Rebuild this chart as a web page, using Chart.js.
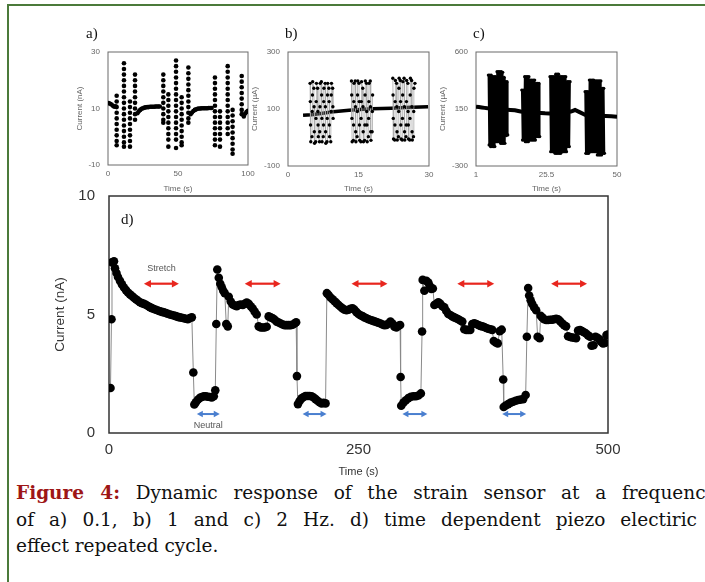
<!DOCTYPE html>
<html>
<head>
<meta charset="utf-8">
<script src="https://cdn.jsdelivr.net/npm/chart.js@4.4.0/dist/chart.umd.min.js"></script>
<style>
  html, body { margin: 0; padding: 0; background: #fff; width: 705px; height: 582px; overflow: hidden; }
  body { position: relative; }
  .frame { position: absolute; left: 7px; top: 4px; width: 740px; height: 620px; border-left: 2px solid #4b7a3a; border-top: 2px solid #4b7a3a; }
  canvas { position: absolute; }
  .lbl { position: absolute; font-family: "Liberation Serif", serif; font-size: 15px; line-height: 15px; color: #111; }
  .cap { position: absolute; left: 16px; font-family: "DejaVu Serif", serif; font-size: 18.5px; line-height: 27px; color: #111; white-space: nowrap; }
  .just { white-space: normal; text-align: justify; text-align-last: justify; }
  .fig { color: #9e1616; font-weight: bold; }
</style>
</head>
<body>
<div class="frame"></div>

<canvas id="chartA" width="187" height="154" style="left:75px;top:40px"></canvas>
<canvas id="chartB" width="193" height="154" style="left:250px;top:40px"></canvas>
<canvas id="chartC" width="193" height="154" style="left:438px;top:40px"></canvas>
<canvas id="chartD" width="581" height="306" style="left:52px;top:173px"></canvas>

<div class="lbl" style="left:86px;top:26px">a)</div>
<div class="lbl" style="left:285px;top:26px">b)</div>
<div class="lbl" style="left:473px;top:26px">c)</div>
<div class="lbl" style="left:121px;top:212px">d)</div>

<div class="cap just" style="top:479px;width:700px"><span class="fig">Figure 4:</span> Dynamic response of the strain sensor at a frequency</div>
<div class="cap just" style="top:506px;width:681px">of a) 0.1, b) 1 and c) 2 Hz. d) time dependent piezo electiric</div>
<div class="cap" style="top:532px">effect repeated cycle.</div>

<script>
// ---- a) 0.1 Hz ----
const aTicksX = [0, 50, 100]
const aTicksY = [-10, 10, 30]
const aBaseTime = [0.5, 1.5, 2.5, 3.5, 4.5, 5.5,
  21, 22, 23, 24, 25, 26, 27, 28, 29, 30, 31, 32, 33, 34, 35, 36, 37,
  59, 60, 61, 62, 63, 64, 65, 66, 67, 68, 69, 70, 71, 72, 73, 74,
  97, 98, 99, 100]
const aBaseCurrent = [11.9, 11.7, 11.4, 11, 10.6, 10.8,
  8.3, 9, 9.5, 9.9, 10.1, 10.3, 10.4, 10.5, 10.5, 10.6, 10.6, 10.6, 10.6, 10.7, 10.7, 10.7, 10.7,
  8, 8.6, 9.1, 9.5, 9.7, 9.9, 10, 10, 10.1, 10.1, 10.1, 10.1, 10.1, 10.2, 10.2, 10.2,
  7.2, 8.2, 8.8, 9.2]
const aColTime = [6.2, 11.4, 15.7, 19.3, 39.5, 43.1, 48.6, 52.6, 57.4, 76.4, 80, 85.5, 89, 95.5]
const aColCurrent = [
  [14.5, 12.5, 10.5, 8.5, 6.5, 4.5, 2.5, 0.5, -1.5, -3],
  [26, 24, 22, 20, 18, 16, 14, 12, 10, 8, 6, 4, 2, 0, -2, -3.5],
  [12.5, 10.5, 8.5, 6.5, 4.5, 2.5, 0.5, -1.5, -3.5],
  [22, 20, 18, 16, 14, 12, 10, 8, 6],
  [22, 20, 18, 16, 14, 12, 10, 8, 6, 5],
  [15, 13, 11, 9, 7, 5, 3, 1, -1, -3.5],
  [27, 25, 23, 21, 19, 17, 15, 13, 11, 9, 7, 5, 3, 1, -1, -4],
  [14, 12, 10, 8, 6, 4, 2, 0, -2, -3],
  [24.5, 22.5, 20.5, 18.5, 16.5, 14.5, 12.5, 10.5, 8.5, 6.5, 5],
  [21, 19, 17, 15, 13, 11, 9, 7, 5, 3, 1, -1, -3],
  [9, 7, 5, 3, 1, -1, -3.5],
  [25, 23, 21, 19, 17, 15, 13, 11, 9, 7, 5, 3, 1],
  [9.5, 7.5, 5.5, 3.5, 1.5, -0.5, -2.5, -4.5, -6],
  [21.5, 19.5, 17.5, 15.5, 13.5, 11.5, 9.5, 8]
]

// ---- b) 1 Hz ----
const bTicksX = [0, 15, 30]
const bTicksY = [-100, 100, 300]
const bBaseTime = [3.2, 5, 7, 9.6, 13, 16, 18, 22, 25, 29.8]
const bBaseCurrent = [78, 80, 84, 90, 96, 99, 101, 103, 105, 108]
const bBurstTime = [
  4.7, 4.75, 4.8, 4.85, 5.1, 5.15, 5.2, 5.25, 5.5, 5.55, 5.6, 5.65, 5.9, 5.95, 6.0, 6.05,
  6.3, 6.35, 6.4, 6.45, 6.7, 6.75, 6.8, 6.85, 7.1, 7.15, 7.2, 7.25, 7.5, 7.55, 7.6, 7.65,
  7.9, 7.95, 8.0, 8.05, 8.3, 8.35, 8.4, 8.45, 8.7, 8.75, 8.8, 8.85, 9.1, 9.15, 9.2, 9.25, 9.5, 9.55, 9.6,
  11,
  13.5, 13.55, 13.6, 13.65, 13.9, 13.95, 14.0, 14.05, 14.3, 14.35, 14.4, 14.45, 14.7, 14.75, 14.8, 14.85,
  15.1, 15.15, 15.2, 15.25, 15.5, 15.55, 15.6, 15.65, 15.9, 15.95, 16.0, 16.05, 16.3, 16.35, 16.4, 16.45,
  16.7, 16.75, 16.8, 16.85, 17.1, 17.15, 17.2, 17.25, 17.5, 17.55, 17.6, 17.65, 17.9, 17.95, 18.0,
  20,
  22.3, 22.35, 22.4, 22.45, 22.7, 22.75, 22.8, 22.85, 23.1, 23.15, 23.2, 23.25, 23.5, 23.55, 23.6, 23.65,
  23.9, 23.95, 24.0, 24.05, 24.3, 24.35, 24.4, 24.45, 24.7, 24.75, 24.8, 24.85, 25.1, 25.15, 25.2, 25.25,
  25.5, 25.55, 25.6, 25.65, 25.9, 25.95, 26.0, 26.05, 26.3, 26.35, 26.4, 26.45, 26.7, 26.75, 26.8, 27.0
]
const bBurstCurrent = [
  190, 126, 44, -15, 3, 91, 149, 196, 173, 108, 20, -20, -15, 67, 126, 190,
  173, 91, 44, 3, -15, 20, 108, 190, 196, 149, 67, -15, 3, 44, 126, 173,
  190, 108, 20, -20, -15, 67, 149, 190, 173, 126, 44, 3, -15, 91, 149, 190, 173, 108, 67,
  null,
  198, 149, 67, -15, -10, 44, 126, 190, 198, 108, 20, -15, 3, 91, 149, 198,
  190, 126, 44, -10, -15, 67, 126, 196, 173, 108, 20, -15, -10, 44, 149, 198,
  190, 91, 44, -15, 3, 67, 126, 190, 198, 108, 20, -10, 20, 91, 149,
  null,
  208, 149, 67, -5, -9, 44, 126, 200, 190, 108, 20, -9, 3, 91, 173, 208,
  200, 126, 44, -5, -9, 67, 149, 196, 208, 108, 20, -9, 3, 44, 126, 200,
  190, 91, 44, -5, -9, 67, 149, 208, 200, 108, 20, -9, 3, 91, 173, 190
]

// ---- c) 2 Hz ----
const cTicksX = [1, 25.5, 50]
const cTicksY = [-300, 150, 600]
const cBaseTime = [1, 2, 3, 4, 5, 13, 14.5, 16.5, 23.5, 25, 26.5, 34, 35.4, 37, 38.9, 46, 48, 50]
const cBaseCurrent = [168, 165, 162, 159, 156, 143, 140, 130, 118, 116, 115, 130, 142, 125, 105, 95, 92, 89]
const cBurstTime = [
  5.3, 5.55, 5.8, 6.05, 6.3, 6.55, 6.8, 7.05, 7.3, 7.55, 7.8, 8.05, 8.3, 8.55,
  8.8, 9.05, 9.3, 9.55, 9.8, 10.05, 10.3, 10.55, 10.8, 11.05, 11.3, 11.55, 11.8, 12.05,
  14,
  16.9, 17.15, 17.4, 17.65, 17.9, 18.15, 18.4, 18.65, 18.9, 19.15, 19.4, 19.65, 19.9,
  20.15, 20.4, 20.65, 20.9, 21.15, 21.4, 21.65, 21.9, 22.15, 22.4, 22.65, 22.9, 23.15,
  25,
  26.7, 26.95, 27.2, 27.45, 27.7, 27.95, 28.2, 28.45, 28.7, 28.95, 29.2, 29.45, 29.7, 29.95, 30.2,
  30.45, 30.7, 30.95, 31.2, 31.45, 31.7, 31.95, 32.2, 32.45, 32.7, 32.95, 33.2, 33.45, 33.7,
  36,
  38.9, 39.15, 39.4, 39.65, 39.9, 40.15, 40.4, 40.65, 40.9, 41.15, 41.4, 41.65, 41.9, 42.15,
  42.4, 42.65, 42.9, 43.15, 43.4, 43.65, 43.9, 44.15, 44.4, 44.65, 44.9, 45.15, 45.4, 45.65
]
const cBurstCurrent = [
  418, -134, 418, -147, 418, -147, 405, -147, 405, -147, 405, -108, 445, -108,
  445, -108, 445, -121, 445, -121, 440, -121, 400, -121, 366, -60, 366, -55,
  null,
  300, -95, 300, -95, 405, -108, 405, -108, 405, -108, 405, -95, 379,
  -95, 379, -95, 379, -95, 379, -95, 352, -68, 352, -68, 352, -68,
  null,
  405, -187, 405, -187, 405, -187, 405, -200, 425, -200, 425, -200, 425, -200, 405,
  -200, 405, -187, 405, -187, 405, -187, 405, -187, 366, -147, 366, -147, 366,
  null,
  287, -200, 287, -200, 287, -200, 379, -187, 379, -187, 379, -187, 379, -187,
  372, -187, 372, -213, 372, -213, 372, -213, 372, -213, 313, -200, 313, -200
]

// ---- d) repeated cycle ----
const dTicksX = [0, 250, 500]
const dTicksY = [0, 5, 10]
const dTime = [
  1.5, 2.5, 3, 5, 6, 7.5, 9, 11, 13, 15, 17, 19, 21, 23, 25, 27, 29, 31, 33, 35, 37, 39, 41, 43, 45, 47, 49, 51,
  53, 55, 57, 59, 61, 63, 65, 67, 69, 71, 73, 75, 77, 79, 81, 83,
  84.5, 85.5, 87, 89, 91, 93, 95, 97, 99, 101, 103, 105, 106.5,
  107.5, 108.5, 110, 111.5, 113, 114.5, 116, 117.5, 119, 120, 122, 124, 126, 128, 130, 132, 134, 136, 138, 140,
  142, 144, 146, 148, 150, 152, 154, 156, 158, 160, 162, 164, 166, 168, 170, 172, 174, 176, 178, 180, 182, 184, 186, 187.5,
  188.3, 189.3, 191, 193, 195, 197, 199, 201, 203, 205, 207, 209, 211, 213, 215, 217,
  218.3, 220, 222, 224, 226, 228, 230, 232, 234, 236, 238, 240, 242, 244, 246, 248, 250, 252, 254,
  256, 258, 260, 262, 264, 266, 268, 270, 272, 274, 276, 278, 280, 282, 284, 286, 288, 290, 291.7,
  292.2, 292.8, 295, 297.5, 300, 302.5, 305, 307.5, 310, 312.5,
  313.7, 314.3, 316, 318, 320, 321.5, 323, 324.5, 326, 328, 330, 332, 334, 336, 338, 340, 342, 344, 346, 348, 350,
  352, 354, 356, 358, 360, 362, 364, 366, 368, 370, 372, 374, 376, 378, 380, 382, 384, 385.5, 387.5, 389.5, 391.5, 393.5,
  395, 395.5, 397.5, 400, 402.5, 405, 407.5, 410, 412.5, 415, 417.5,
  418.7, 420, 421, 422.5, 424, 426, 428, 429.5, 431.5, 432.5, 434, 436, 438, 440, 442, 444, 446, 448, 450, 452,
  454, 456, 458, 460, 462, 464, 466, 468, 470, 472, 474, 476, 478, 480, 482, 483.5, 485.5, 487.5, 489.5, 491.5,
  493, 495, 497, 498.5, 500
]
const dCurrent = [
  1.9, 4.8, 7.2, 7.25, 6.95, 6.75, 6.58, 6.42, 6.27, 6.14, 6.03, 5.93, 5.85, 5.78, 5.71, 5.64, 5.58, 5.52, 5.48, 5.45, 5.41, 5.36, 5.31, 5.27, 5.23, 5.2, 5.17, 5.14,
  5.11, 5.09, 5.06, 5.03, 5.0, 4.98, 4.96, 4.93, 4.9, 4.88, 4.86, 4.84, 4.82, 4.8, 4.85, 4.88,
  2.55, 1.2, 1.3, 1.4, 1.48, 1.52, 1.55, 1.55, 1.53, 1.52, 1.5, 1.55, 1.8,
  4.6, 6.9, 6.55, 6.3, 6.15, 6.0, 5.9, 4.6, 4.5, 5.75, 5.55, 5.42, 5.38, 5.35, 5.4, 5.42, 5.4, 5.45, 5.5, 5.45,
  5.35, 5.25, 5.12, 5.0, 4.5, 4.45, 4.45, 4.45, 4.48, 4.92, 4.88, 4.84, 4.78, 4.7, 4.66, 4.62, 4.58, 4.55, 4.55, 4.55, 4.55, 4.57, 4.62, 4.67,
  2.4, 1.22, 1.35, 1.46, 1.52, 1.56, 1.56, 1.56, 1.55, 1.5, 1.43, 1.36, 1.3, 1.25, 1.27, 1.25,
  5.9, 5.82, 5.72, 5.64, 5.56, 5.48, 5.4, 5.33, 5.26, 5.2, 5.18, 5.2, 5.24, 5.26, 5.2, 5.1, 5.02, 4.97, 4.93,
  4.88, 4.84, 4.8, 4.77, 4.74, 4.71, 4.68, 4.65, 4.62, 4.58, 4.55, 4.56, 4.62, 4.7, 4.62, 4.48, 4.45, 4.52, 4.56,
  2.36, 1.15, 1.28, 1.38, 1.47, 1.53, 1.55, 1.55, 1.58, 1.67,
  4.28, 6.46, 6.0, 6.42, 6.35, 6.2, 6.08, 6.1, 5.4, 5.45, 5.52, 5.45, 5.35, 5.3, 5.15, 5.02, 4.98, 4.92, 4.88, 4.84, 4.8,
  4.75, 4.7, 4.38, 4.35, 4.35, 4.35, 4.6, 4.63, 4.6, 4.56, 4.52, 4.5, 4.47, 4.43, 4.4, 4.38, 4.35, 3.88, 3.82, 3.78, 4.3, 4.36,
  2.26, 1.1, 1.16, 1.22, 1.28, 1.32, 1.36, 1.39, 1.41, 1.43, 1.6,
  4.06, 6.12, 5.8, 5.6, 5.45, 5.3, 5.18, 4.06, 4.0, 4.95, 4.88, 4.8, 4.77, 4.77, 4.78, 4.78, 4.8, 4.82, 4.8, 4.72,
  4.63, 4.55, 4.5, 4.08, 4.05, 4.03, 4.02, 4.0, 4.32, 4.34, 4.3, 4.25, 4.2, 4.12, 4.06, 3.68, 3.7, 4.06, 4.02, 3.95,
  3.85, 3.78, 3.8, 4.13, 4.15
]
const stretchSpans = [[35, 70], [136, 172], [243, 279], [349, 386], [443, 479]]
const stretchLevel = 6.3
const neutralSpans = [[88, 111], [194, 218], [294, 319], [394, 418]]
const neutralLevel = 0.8
const stretchLabel = ['Stretch', 52.5, 6.95]
const neutralLabel = ['Neutral', 99.5, 0.3]

const sans = '"Liberation Sans", Arial, sans-serif'
const toPoints = (xs, ys) => xs.map((x, i) => ({ x: x, y: ys[i] }))

// box round the plot area
const plotFrame = {
  id: 'plotFrame',
  beforeDatasetsDraw(chart, args, opts) {
    const { ctx, chartArea: a } = chart
    ctx.save()
    ctx.strokeStyle = opts.color
    ctx.lineWidth = opts.width
    ctx.strokeRect(a.left, a.top, a.right - a.left, a.bottom - a.top)
    ctx.restore()
  }
}

// stretch / neutral double arrows on chart d
const cycleArrows = {
  id: 'cycleArrows',
  afterDatasetsDraw(chart) {
    const { ctx, scales: { x, y } } = chart
    const arrow = (t0, t1, v, color, lw, hl, hw) => {
      const x0 = x.getPixelForValue(t0), x1 = x.getPixelForValue(t1), py = y.getPixelForValue(v)
      ctx.strokeStyle = color
      ctx.fillStyle = color
      ctx.lineWidth = lw
      ctx.beginPath(); ctx.moveTo(x0 + hl - 1, py); ctx.lineTo(x1 - hl + 1, py); ctx.stroke()
      ctx.beginPath(); ctx.moveTo(x0, py); ctx.lineTo(x0 + hl, py - hw); ctx.lineTo(x0 + hl, py + hw); ctx.fill()
      ctx.beginPath(); ctx.moveTo(x1, py); ctx.lineTo(x1 - hl, py - hw); ctx.lineTo(x1 - hl, py + hw); ctx.fill()
    }
    ctx.save()
    stretchSpans.forEach(s => arrow(s[0], s[1], stretchLevel, '#e8261e', 2.2, 7, 3.8))
    neutralSpans.forEach(s => arrow(s[0], s[1], neutralLevel, '#4a7fcf', 2, 6, 3.3))
    ctx.fillStyle = '#555'
    ctx.font = '9px ' + sans
    ctx.textAlign = 'center'
    ctx.textBaseline = 'middle'
    ctx.fillText(stretchLabel[0], x.getPixelForValue(stretchLabel[1]), y.getPixelForValue(stretchLabel[2]))
    ctx.fillText(neutralLabel[0], x.getPixelForValue(neutralLabel[1]), y.getPixelForValue(neutralLabel[2]))
    ctx.restore()
  }
}

function axis(ticks, size, lh, color, title, titleSize, tickPad, fit) {
  return {
    type: 'linear',
    min: ticks[0],
    max: ticks[ticks.length - 1],
    grid: { display: false, drawTicks: false },
    border: { display: false },
    ticks: { color: color, font: { family: sans, size: size, lineHeight: lh }, padding: tickPad, maxRotation: 0, autoSkip: false, callback: v => v },
    afterBuildTicks: s => { s.ticks = ticks.map(v => ({ value: v })) },
    afterFit: fit,
    title: { display: true, text: title, color: color, font: { family: sans, size: titleSize }, padding: 0 }
  }
}

function smallChart(id, datasets, xt, yt, yTitle, yWidth, xHeight) {
  return new Chart(document.getElementById(id), {
    type: 'scatter',
    data: { datasets: datasets },
    plugins: [plotFrame],
    options: {
      responsive: false,
      animation: false,
      layout: { padding: { top: 0, right: 14, left: 0, bottom: 0 } },
      plugins: { legend: { display: false }, tooltip: { enabled: false }, plotFrame: { color: '#6a6a6a', width: 1 } },
      scales: {
        x: axis(xt, 8, 1, '#666', 'Time (s)', 8, 5, s => { s.height = xHeight }),
        y: axis(yt, 8, 1, '#666', yTitle, 8, 8, s => { s.width = yWidth })
      }
    }
  })
}

// a
const aColPoints = []
aColTime.forEach((t, i) => aColCurrent[i].forEach(v => aColPoints.push({ x: t, y: v })))
smallChart('chartA', [
  { data: toPoints(aBaseTime, aBaseCurrent), showLine: false, pointRadius: 2.3, pointBorderWidth: 0, pointBackgroundColor: '#000' },
  { data: aColPoints, showLine: false, pointRadius: 2.3, pointBorderWidth: 0, pointBackgroundColor: '#000' }
], aTicksX, aTicksY, 'Current (nA)', 33, 29)

// b
smallChart('chartB', [
  { data: toPoints(bBurstTime, bBurstCurrent), showLine: true, spanGaps: false, borderColor: '#aaa', borderWidth: 0.8,
    pointRadius: 1.7, pointBorderWidth: 0, pointBackgroundColor: '#000' },
  { data: toPoints(bBaseTime, bBaseCurrent), showLine: true, borderColor: '#000', borderWidth: 3.5, pointRadius: 0 }
], bTicksX, bTicksY, 'Current (\u00b5A)', 38, 28)

// c
smallChart('chartC', [
  { data: toPoints(cBurstTime, cBurstCurrent), showLine: true, spanGaps: false, borderColor: '#000', borderWidth: 1.6,
    pointRadius: 1.6, pointBorderWidth: 0, pointBackgroundColor: '#000' },
  { data: toPoints(cBaseTime, cBaseCurrent), showLine: true, borderColor: '#000', borderWidth: 4, pointRadius: 0 }
], cTicksX, cTicksY, 'Current (\u00b5A)', 38, 28)

// d
new Chart(document.getElementById('chartD'), {
  type: 'scatter',
  data: {
    datasets: [{
      data: toPoints(dTime, dCurrent),
      showLine: true,
      borderColor: '#8a8a8a',
      borderWidth: 1,
      pointRadius: 4.3,
      pointBorderWidth: 0,
      pointBackgroundColor: '#000'
    }]
  },
  plugins: [plotFrame, cycleArrows],
  options: {
    responsive: false,
    animation: false,
    layout: { padding: { top: 0, right: 25, left: 0, bottom: 0 } },
    plugins: { legend: { display: false }, tooltip: { enabled: false }, plotFrame: { color: '#333', width: 1.5 } },
    scales: {
      x: axis(dTicksX, 15, 1.2, '#333', 'Time (s)', 11, 8, s => { s.height = 46 }),
      y: axis(dTicksY, 15, 1.2, '#333', 'Current (nA)', 13.5, 14, s => { s.width = 57 })
    }
  }
})
</script>
</body>
</html>
